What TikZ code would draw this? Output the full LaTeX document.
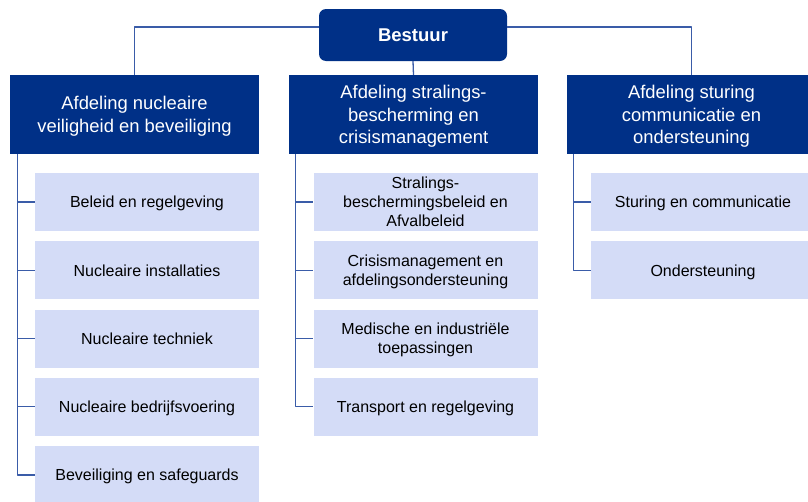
\documentclass[tikz,border=0pt]{standalone}
\usepackage{fontspec}
\setmainfont{Liberation Sans}
\definecolor{donker}{HTML}{003087}
\definecolor{licht}{HTML}{D4DCF7}
\definecolor{lijn}{HTML}{3A5CA8}
\begin{document}
\begin{tikzpicture}[x=1pt,y=-1pt,line join=round,
		afd/.style={fill=donker,text=white,minimum width=249pt,minimum height=79pt,inner sep=0pt,align=center,
			font=\fontsize{18.4}{22.8}\selectfont,text depth=-2.5pt},
		sub/.style={fill=licht,text=black,minimum width=224pt,minimum height=58pt,inner sep=0pt,align=center,
			font=\fontsize{16}{19}\selectfont,text depth=-1.5pt},
		lijnen/.style={draw=lijn,line width=1.3pt}]
		\useasboundingbox (0,0) rectangle (808,501);
		% bestuur en afdelingen
		\node[fill=donker,text=white,rounded corners=7pt,minimum width=188pt,minimum height=52pt,font=\fontsize{18.5}{22}\selectfont\bfseries] (bestuur) at (413,35) {Bestuur};
		\node[afd] (afd1) at (134.5,114.5) {Afdeling nucleaire\\veiligheid en beveiliging};
		\node[afd] (afd2) at (413.5,114.5) {Afdeling stralings-\\bescherming en\\crisismanagement};
		\node[afd] (afd3) at (691.5,114.5) {Afdeling sturing\\communicatie en\\ondersteuning};
		\draw[lijnen] ([yshift=8pt]bestuur.west) -| (afd1.north);
		\draw[lijnen] ([yshift=8pt]bestuur.east) -| (afd3.north);
		\draw[lijnen] (bestuur.south) -- (afd2.north);
		% onderdelen
		\foreach \t [count=\i] in {Beleid en regelgeving,Nucleaire installaties,Nucleaire techniek,Nucleaire bedrijfsvoering,Beveiliging en safeguards}{
			\node[sub] (l\i) at (147,{202+68.25*(\i-1)}) {\t};
			\draw[lijnen] ([xshift=8pt]afd1.south west) |- (l\i.west);
		}
		\foreach \t [count=\i] in {{Stralings-\\beschermingsbeleid en\\Afvalbeleid},{Crisismanagement en\\afdelingsondersteuning},{Medische en industriële\\toepassingen},Transport en regelgeving}{
			\node[sub] (m\i) at (425.5,{202+68.25*(\i-1)}) {\t};
			\draw[lijnen] ([xshift=7pt]afd2.south west) |- (m\i.west);
		}
		\foreach \t [count=\i] in {Sturing en communicatie,Ondersteuning}{
			\node[sub] (r\i) at (703,{202+68.25*(\i-1)}) {\t};
			\draw[lijnen] ([xshift=7pt]afd3.south west) |- (r\i.west);
		}
\end{tikzpicture}
\end{document}
